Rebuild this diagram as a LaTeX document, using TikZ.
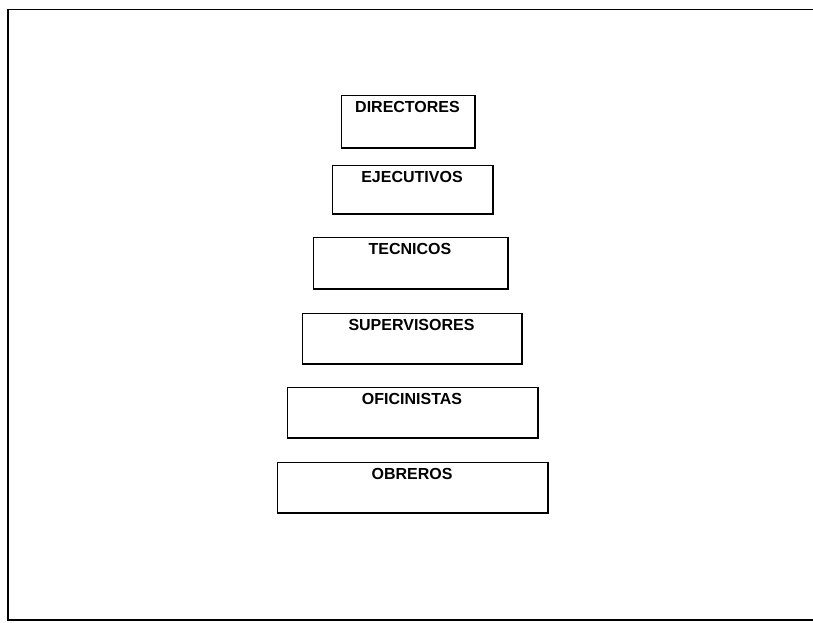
\documentclass[tikz,border=0pt]{standalone}
\usepackage{fontspec}
\setmainfont{Liberation Sans}
\usetikzlibrary{positioning}

\begin{document}
\begin{tikzpicture}[x=1pt,y=-1pt,
  caja/.style={draw, line width=1pt, inner sep=0pt},
  sombra/.style={line width=2pt},
  rotulo/.style={font=\fontsize{16}{18}\selectfont\bfseries, inner sep=0pt}]
  \useasboundingbox (0,0) rectangle (813,622);
  % marco
  \draw[line width=0.7pt] (813,9) -- (8,9);
  \draw[line width=1.6pt] (8,9) -- (8,620) -- (813,620);
  % niveles
  \node[caja, minimum width=133pt, minimum height=52pt] (dir) at (407.5,121) {};
  \node[caja, minimum width=160pt, minimum height=48pt] (eje) at (412,189) {};
  \node[caja, minimum width=194pt, minimum height=51pt] (tec) at (410,262.5) {};
  \node[caja, minimum width=219pt, minimum height=50pt] (sup) at (411.5,338) {};
  \node[caja, minimum width=250pt, minimum height=50pt] (ofi) at (412,412) {};
  \node[caja, minimum width=270pt, minimum height=50pt] (obr) at (412,487) {};
  % bordes gruesos
  \draw[sombra] (dir.north east) -- (dir.south east) -- (dir.south west);
  \draw[sombra] (eje.north east) -- (eje.south east) -- (eje.south west);
  \draw[sombra] (tec.north east) -- (tec.south east) -- (tec.south west);
  \draw[sombra] (sup.north east) -- (sup.south east) -- (sup.south west);
  \draw[sombra] (ofi.north east) -- (ofi.south east) -- (ofi.south west);
  \draw[sombra] (obr.north east) -- (obr.south east) -- (obr.south west);
  % textos
  \node[rotulo, below=7pt of dir.north] (dirT) {DIRECTORES};
  \node[rotulo, below=7pt of eje.north] (ejeT) {EJECUTIVOS};
  \node[rotulo, below=7pt of tec.north] (tecT) {TECNICOS};
  \node[rotulo, below=7pt of sup.north] (supT) {SUPERVISORES};
  \node[rotulo, below=7pt of ofi.north] (ofiT) {OFICINISTAS};
  \node[rotulo, below=7pt of obr.north] (obrT) {OBREROS};
\end{tikzpicture}
\end{document}
